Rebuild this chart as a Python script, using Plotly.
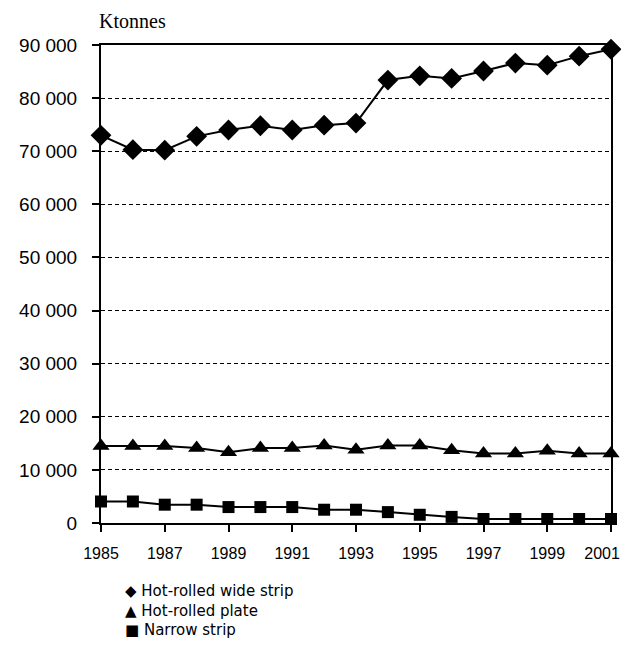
import plotly.graph_objects as go

years = list(range(1985, 2002))
wide_strip = [73000, 70300, 70200, 72800, 74000, 74800, 74000, 74900, 75300,
              83400, 84200, 83700, 85100, 86600, 86200, 87900, 89200]
plate = [14500, 14500, 14500, 14100, 13300, 14100, 14100, 14600, 13800,
         14600, 14600, 13700, 13100, 13100, 13600, 13100, 13100]
narrow_strip = [4050, 4050, 3450, 3450, 3000, 3000, 3000, 2500, 2500,
                2050, 1550, 1150, 750, 750, 750, 750, 750]

series_names = ["Hot-rolled wide strip", "Hot-rolled plate", "Narrow strip"]
legend_glyphs = ["◆", "▲", "■"]
y_tick_vals = [0, 10000, 20000, 30000, 40000, 50000, 60000, 70000, 80000, 90000]
y_tick_text = ["0", "10 000", "20 000", "30 000", "40 000", "50 000",
               "60 000", "70 000", "80 000", "90 000"]
x_tick_vals = [1985, 1987, 1989, 1991, 1993, 1995, 1997, 1999, 2001]
x_tick_text = ["1985", "1987", "1989", "1991", "1993", "1995", "1997", "1999",
               "2001\u00a0\u00a0\u00a0\u00a0"]  # trailing spaces keep the last label inside the page

series = [(wide_strip, "diamond", 16), (plate, "triangle-up", 15), (narrow_strip, "square", 12)]

fig = go.Figure()
for (vals, sym, sz), name in zip(series, series_names):
    fig.add_trace(go.Scatter(
        x=years, y=vals, mode="lines+markers", name=name, showlegend=False,
        line=dict(color="black", width=2),
        marker=dict(symbol=sym, size=sz, color="black"),
        cliponaxis=False,
    ))

legend_text = "<br>".join(f"{g} {n}" for g, n in zip(legend_glyphs, series_names))

fig.update_layout(
    width=613, height=630,
    margin=dict(l=93, r=10, t=37, b=115, autoexpand=False),
    plot_bgcolor="white", paper_bgcolor="white",
    showlegend=False,
    font=dict(family="Liberation Sans, Arial, sans-serif", color="black"),
    xaxis=dict(
        range=[1985, 2001], tickvals=x_tick_vals, ticktext=x_tick_text, automargin=False,
        showline=True, linecolor="black", linewidth=2, mirror=True,
        ticks="outside", ticklen=7, tickwidth=1.5, tickcolor="black",
        showgrid=False, zeroline=False, ticklabelstandoff=8,
        ticklabeloverflow="allow",
        tickfont=dict(size=16),
    ),
    yaxis=dict(
        range=[0, 90000], tickvals=y_tick_vals, ticktext=y_tick_text, automargin=False,
        showline=True, linecolor="black", linewidth=2, mirror=True,
        ticks="outside", ticklen=7, tickwidth=1.5, tickcolor="black",
        showgrid=True, gridcolor="black", gridwidth=1, griddash="4px,3px",
        zeroline=False, ticklabelstandoff=11,
        tickfont=dict(size=19),
    ),
    annotations=[
        dict(
            text="Ktonnes", xref="paper", yref="paper", x=-0.008, y=1 + 24 / 478,
            xanchor="left", yanchor="middle", showarrow=False,
            font=dict(family="Liberation Serif, Times New Roman, serif", size=20),
        ),
        dict(
            text=legend_text, xref="paper", yref="paper", x=22 / 510, y=-0.184,
            xanchor="left", yanchor="middle", align="left", showarrow=False,
            font=dict(family="DejaVu Sans, sans-serif", size=15),
        ),
    ],
)

fig.write_html("out.html")
